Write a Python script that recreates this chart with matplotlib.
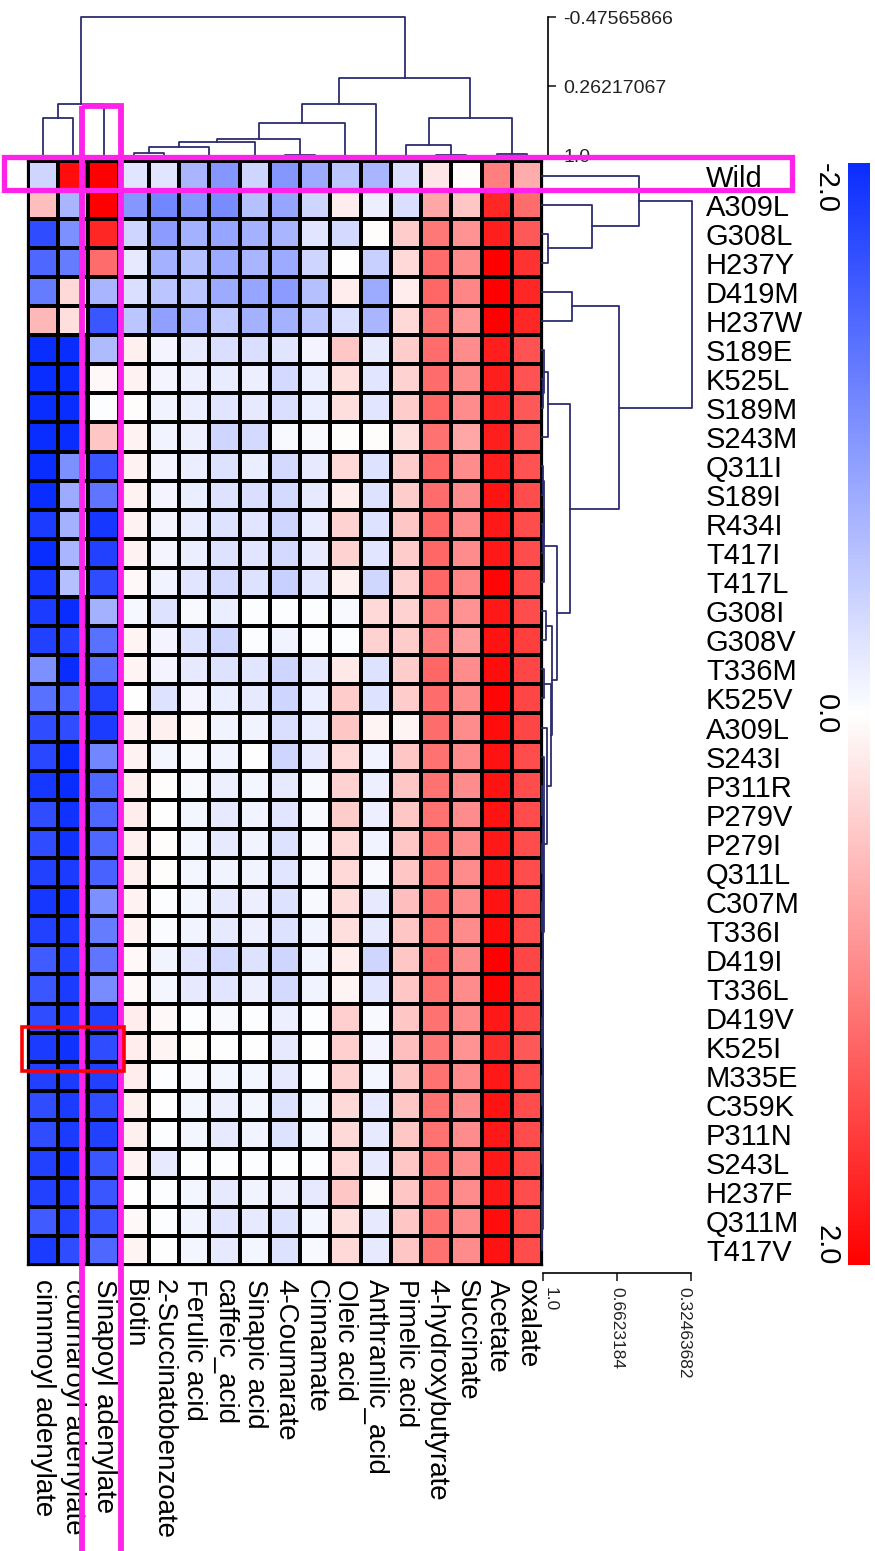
import numpy as np
import matplotlib
matplotlib.use("Agg")
import matplotlib.pyplot as plt
from matplotlib.colors import LinearSegmentedColormap
from matplotlib.patches import Rectangle
from matplotlib.transforms import blended_transform_factory

# figure size in pixels (dpi 100)
W, H = 875, 1551

compounds = ["cinnmoyl adenylate", "coumaroyl adenylate", "Sinapoyl adenylate",
             "Biotin", "2-Succinatobenzoate", "Ferulic acid", "caffeic_acid",
             "Sinapic acid", "4-Coumarate", "Cinnamate", "Oleic acid",
             "Anthranilic_acid", "Pimelic acid", "4-hydroxybutyrate",
             "Succinate", "Acetate", "oxalate"]

mutants = ["Wild", "A309L", "G308L", "H237Y", "D419M", "H237W", "S189E", "K525L",
           "S189M", "S243M", "Q311I", "S189I", "R434I", "T417I", "T417L", "G308I",
           "G308V", "T336M", "K525V", "A309L", "S243I", "P311R", "P279V", "P279I",
           "Q311L", "C307M", "T336I", "D419I", "T336L", "D419V", "K525I", "M335E",
           "C359K", "P311N", "S243L", "H237F", "Q311M", "T417V"]

# z-scores, one row per mutant, columns in the order of `compounds`
scores = [
    [-0.40, 1.90, 2.00, -0.25, -0.25, -0.70, -1.00, -0.40, -1.00, -0.80, -0.55, -0.70, -0.30, 0.20, 0.02, 1.00, 0.65],
    [0.50, -0.70, 2.00, -1.00, -1.15, -1.00, -1.10, -0.60, -0.85, -0.40, 0.15, -0.15, -0.30, 0.70, 0.45, 1.70, 1.15],
    [-1.70, -1.05, 1.70, -0.40, -0.95, -0.75, -0.85, -0.75, -0.70, -0.25, -0.35, 0.02, 0.40, 1.05, 0.85, 1.75, 1.30],
    [-1.45, -1.25, 1.15, -0.20, -0.75, -0.60, -0.80, -0.70, -0.80, -0.40, 0.00, -0.45, 0.30, 1.15, 0.90, 2.00, 1.60],
    [-1.25, 0.30, -0.70, -0.30, -0.55, -0.55, -0.80, -0.85, -0.95, -0.60, 0.15, -0.80, 0.15, 1.20, 0.95, 2.00, 1.70],
    [0.55, 0.25, -1.60, -0.55, -0.90, -0.75, -0.50, -0.75, -0.75, -0.55, -0.30, -0.70, 0.30, 1.10, 0.80, 2.00, 1.70],
    [-2.00, -2.00, -0.65, 0.12, -0.10, -0.20, -0.30, -0.30, -0.25, -0.10, 0.45, -0.20, 0.40, 1.15, 0.90, 1.75, 1.35],
    [-2.00, -2.00, 0.05, 0.10, -0.10, -0.15, -0.18, -0.15, -0.35, -0.17, 0.25, -0.25, 0.35, 1.15, 0.90, 1.75, 1.35],
    [-2.00, -2.00, -0.02, 0.03, -0.12, -0.17, -0.25, -0.20, -0.30, -0.17, 0.25, -0.25, 0.40, 1.20, 0.90, 1.70, 1.30],
    [-2.00, -2.00, 0.45, 0.10, -0.12, -0.15, -0.40, -0.35, -0.05, -0.05, 0.03, 0.02, 0.25, 1.10, 0.70, 1.75, 1.30],
    [-2.00, -1.05, -1.60, 0.10, -0.10, -0.17, -0.28, -0.17, -0.35, -0.20, 0.30, -0.28, 0.40, 1.20, 0.90, 1.75, 1.35],
    [-2.00, -0.80, -1.30, 0.10, -0.10, -0.17, -0.28, -0.30, -0.35, -0.20, 0.15, -0.28, 0.40, 1.15, 0.90, 1.85, 1.40],
    [-1.85, -0.75, -1.90, 0.10, -0.10, -0.18, -0.28, -0.25, -0.40, -0.18, 0.35, -0.28, 0.45, 1.20, 0.90, 1.80, 1.40],
    [-2.00, -0.70, -1.80, 0.10, -0.10, -0.17, -0.28, -0.25, -0.35, -0.20, 0.35, -0.25, 0.40, 1.20, 0.90, 1.80, 1.40],
    [-1.90, -0.60, -1.70, 0.05, -0.12, -0.25, -0.35, -0.28, -0.45, -0.25, 0.12, -0.38, 0.35, 1.20, 0.95, 1.95, 1.40],
    [-1.85, -2.00, -0.75, -0.07, -0.28, -0.05, -0.17, -0.02, -0.02, -0.03, -0.05, 0.30, 0.35, 1.00, 0.85, 1.80, 1.40],
    [-1.80, -1.80, -1.35, 0.08, -0.10, -0.28, -0.40, -0.02, -0.12, -0.03, -0.02, 0.35, 0.40, 1.00, 0.75, 1.85, 1.50],
    [-1.05, -2.00, -1.35, 0.08, -0.10, -0.20, -0.28, -0.25, -0.40, -0.20, 0.18, -0.28, 0.40, 1.20, 0.90, 1.90, 1.45],
    [-1.35, -1.50, -1.80, 0.00, -0.28, -0.10, -0.17, -0.20, -0.40, -0.17, 0.40, -0.28, 0.40, 1.15, 0.90, 1.95, 1.45],
    [-1.70, -1.70, -1.85, 0.10, 0.12, 0.05, -0.12, -0.12, -0.30, -0.18, 0.45, 0.08, 0.08, 1.15, 0.90, 1.90, 1.45],
    [-1.75, -2.00, -1.15, 0.10, -0.08, -0.05, -0.12, 0.00, -0.40, -0.20, 0.30, -0.12, 0.45, 1.10, 0.90, 1.85, 1.40],
    [-1.90, -2.00, -1.45, 0.12, 0.03, -0.05, -0.15, -0.08, -0.20, -0.05, 0.35, -0.15, 0.45, 1.10, 0.90, 1.85, 1.40],
    [-1.70, -1.95, -1.45, 0.15, 0.00, -0.08, -0.20, -0.12, -0.25, -0.05, 0.40, -0.15, 0.45, 1.10, 0.90, 1.85, 1.40],
    [-1.70, -1.95, -1.45, 0.12, 0.02, -0.08, -0.20, -0.12, -0.28, -0.05, 0.30, -0.12, 0.45, 1.10, 0.90, 1.80, 1.40],
    [-1.80, -1.85, -1.50, 0.12, 0.02, -0.08, -0.12, -0.12, -0.25, -0.05, 0.30, -0.05, 0.45, 1.10, 0.90, 1.80, 1.40],
    [-1.90, -1.95, -1.05, 0.10, -0.03, -0.08, -0.20, -0.15, -0.28, -0.05, 0.28, -0.20, 0.50, 1.10, 0.90, 1.85, 1.40],
    [-1.80, -1.85, -1.25, 0.10, -0.04, -0.12, -0.20, -0.15, -0.28, -0.12, 0.25, -0.20, 0.45, 1.10, 0.90, 1.90, 1.40],
    [-1.55, -1.80, -1.30, 0.05, -0.12, -0.25, -0.35, -0.28, -0.40, -0.12, 0.15, -0.40, 0.45, 1.15, 0.90, 2.00, 1.45],
    [-1.60, -1.85, -1.10, 0.05, -0.08, -0.20, -0.25, -0.15, -0.35, -0.12, 0.08, -0.25, 0.45, 1.10, 0.90, 1.95, 1.45],
    [-1.70, -1.85, -1.80, 0.15, 0.05, -0.02, -0.05, -0.02, -0.15, -0.02, 0.38, -0.05, 0.45, 1.10, 0.90, 1.80, 1.45],
    [-1.85, -1.95, -1.70, 0.15, 0.08, 0.02, 0.00, 0.00, -0.20, 0.00, 0.38, -0.10, 0.50, 1.05, 0.85, 1.65, 1.30],
    [-1.80, -1.85, -1.80, 0.15, -0.02, -0.05, -0.08, -0.08, -0.20, -0.02, 0.35, -0.08, 0.45, 1.10, 0.90, 1.80, 1.40],
    [-1.70, -1.85, -1.70, 0.12, 0.00, -0.08, -0.15, -0.08, -0.28, -0.08, 0.30, -0.20, 0.45, 1.10, 0.90, 1.85, 1.40],
    [-1.70, -1.85, -1.80, 0.12, -0.02, -0.08, -0.20, -0.12, -0.28, -0.08, 0.30, -0.20, 0.45, 1.10, 0.90, 1.80, 1.40],
    [-1.80, -1.95, -1.60, 0.10, -0.20, -0.02, -0.02, -0.03, -0.02, -0.02, 0.30, -0.20, 0.45, 1.10, 0.90, 1.80, 1.40],
    [-1.80, -1.85, -1.60, 0.00, -0.02, -0.08, -0.20, -0.12, -0.15, -0.20, 0.45, 0.02, 0.45, 1.10, 0.90, 1.80, 1.40],
    [-1.55, -1.80, -1.60, 0.05, -0.02, -0.12, -0.25, -0.20, -0.28, -0.08, 0.25, -0.20, 0.45, 1.10, 0.90, 1.90, 1.40],
    [-1.85, -1.70, -1.45, 0.08, 0.00, -0.08, -0.20, -0.08, -0.28, -0.05, 0.30, -0.20, 0.45, 1.10, 0.90, 1.85, 1.40],
]

# dendrograms: (left, right, similarity) nested, leaves are display indices
col_left = ((0, 1, 0.597), 2, 0.449)
col_mid = ((((((3, 4, 0.968), (5, 6, 0.995), 0.905), 7, 0.852), (8, 9, 0.99), 0.82), 10, 0.65), 11, 0.449)
col_right = ((12, (13, 14, 0.99), 0.883), (15, 16, 0.98), 0.597)
col_tree = (col_left, (col_mid, col_right, 0.174), -0.47565866)

row_z = ((33, 34, 0.998), ((35, 36, 0.999), 37, 0.998), 0.997)
row_y = (((29, 30, 0.998), (31, 32, 0.998), 0.997), row_z, 0.996)
row_x = (((25, 26, 0.998), (27, 28, 0.998), 0.997), row_y, 0.995)
row_low = (((21, 22, 0.998), (23, 24, 0.998), 0.997), row_x, 0.994)
row_top = (0, (1, (2, 3, 0.972), 0.776), 0.564)
row_e = ((6, (7, 8, 0.995), 0.99), 9, 0.972)
row_g = (((10, 11, 0.996), (12, 13, 0.996), 0.993), 14, 0.99)
row_h = ((15, 16, 0.98), ((17, 18, 0.99), (19, (20, row_low, 0.99), 0.976), 0.96), 0.954)
row_bottom = ((4, 5, 0.864), (row_e, (row_g, row_h, 0.931), 0.875), 0.6535)
row_tree = (row_top, row_bottom, 0.32463682)

col_ticks = [-0.47565866, 0.26217067, 1.0]
col_tick_labels = ["-0.47565866", "0.26217067", "1.0"]
row_ticks = [1.0, 0.6623184, 0.32463682]
row_tick_labels = ["1.0", "0.6623184", "0.32463682"]

plt.rcParams['font.family'] = ['Liberation Sans', 'DejaVu Sans']

tree_color = '#2c2c70'
cmap = LinearSegmentedColormap.from_list('bwr2', ['#0a2dff', '#ffffff', '#ff0000'])


def px_axes(fig, x0, y0, x1, y1, **kw):
    """axes placed by pixel box (top-left origin)"""
    return fig.add_axes([x0 / W, 1 - y1 / H, (x1 - x0) / W, (y1 - y0) / H], **kw)


def draw_tree(ax, node, orient):
    if isinstance(node, int):
        return node + 0.5, 1.0
    left, right, h = node
    p1, h1 = draw_tree(ax, left, orient)
    p2, h2 = draw_tree(ax, right, orient)
    if orient == 'top':
        ax.plot([p1, p1, p2, p2], [h1, h, h, h2], color=tree_color, lw=1.3, clip_on=False)
    else:
        ax.plot([h1, h, h, h2], [p1, p1, p2, p2], color=tree_color, lw=1.3, clip_on=False)
    return (p1 + p2) / 2, h


fig = plt.figure(figsize=(W / 100, H / 100), dpi=100)

data = np.array(scores)
n_rows, n_cols = data.shape

# heatmap
ax = px_axes(fig, 28, 161, 542, 1265)
mesh = ax.pcolormesh(data, cmap=cmap, vmin=-2, vmax=2, edgecolors='black', linewidth=1.6)
ax.set_xlim(0, n_cols)
ax.set_ylim(n_rows, 0)
ax.yaxis.tick_right()
ax.set_yticks(np.arange(n_rows) + 0.5, mutants, fontsize=21)
ax.set_xticks(np.arange(n_cols) + 0.5, compounds, fontsize=20, rotation=-90)
ax.tick_params(axis='y', length=0, pad=118)
ax.tick_params(axis='x', length=0, pad=10)
for sp in ax.spines.values():
    sp.set_linewidth(1.6)

# column dendrogram
axc = px_axes(fig, 28, 17, 542, 156)
draw_tree(axc, col_tree, 'top')
axc.set_xlim(0, n_cols)
axc.set_ylim(1.0, -0.47565866)
axc.axis('off')

# its scale
sc = px_axes(fig, 548, 17, 548.2, 156)
sc.set_ylim(1.0, -0.47565866)
sc.yaxis.tick_right()
sc.set_yticks(col_ticks, col_tick_labels, fontsize=14)
sc.tick_params(axis='y', direction='out', length=6, width=1.2, pad=5, colors='#222222')
sc.set_xticks([])
for side in ['left', 'top', 'bottom']:
    sc.spines[side].set_visible(False)
sc.spines['right'].set_linewidth(1.2)

# row dendrogram
axr = px_axes(fig, 542, 161, 692, 1265)
draw_tree(axr, row_tree, 'right')
axr.set_xlim(1.0, 0.32463682)
axr.set_ylim(n_rows, 0)
axr.axis('off')

# its scale
rs = px_axes(fig, 543, 1273, 691, 1273.2)
rs.set_xlim(1.0, 0.32463682)
rs.set_xticks(row_ticks, row_tick_labels, fontsize=12.5, rotation=-90)
rs.tick_params(axis='x', direction='out', length=6, width=1.2, pad=4, colors='#222222')
for lab, align in zip(rs.get_xticklabels(), ['left', 'center', 'right']):
    lab.set_horizontalalignment(align)
rs.set_yticks([])
for side in ['left', 'right', 'top']:
    rs.spines[side].set_visible(False)
rs.spines['bottom'].set_linewidth(1.2)

# colour bar
cax = px_axes(fig, 848, 163, 870, 1265)
cb = fig.colorbar(mesh, cax=cax)
cb.outline.set_visible(False)
cax.invert_yaxis()
cax.set_yticks([])
tr = blended_transform_factory(cax.transAxes, cax.transData)
cax.text(-1.0, -2.0, "-2.0", transform=tr, rotation=-90, ha='center', va='top', fontsize=21)
cax.text(-1.0, 0.0, "0.0", transform=tr, rotation=-90, ha='center', va='center', fontsize=21)
cax.text(-1.0, 2.0, "2.0", transform=tr, rotation=-90, ha='center', va='bottom', fontsize=21)

# highlight boxes drawn over everything
ov = fig.add_axes([0, 0, 1, 1], zorder=10)
ov.set_xlim(0, W)
ov.set_ylim(H, 0)
ov.axis('off')
ov.patch.set_alpha(0)
ov.add_patch(Rectangle((4, 157), 788, 33, fill=False, edgecolor='#ff22ea', lw=3.8))
ov.add_patch(Rectangle((81.5, 105.5), 39, 1460, fill=False, edgecolor='#ff22ea', lw=4.2))
ov.add_patch(Rectangle((22, 1027), 102, 44, fill=False, edgecolor='#ff0000', lw=2.6))

fig.savefig('out.png', dpi=100)
